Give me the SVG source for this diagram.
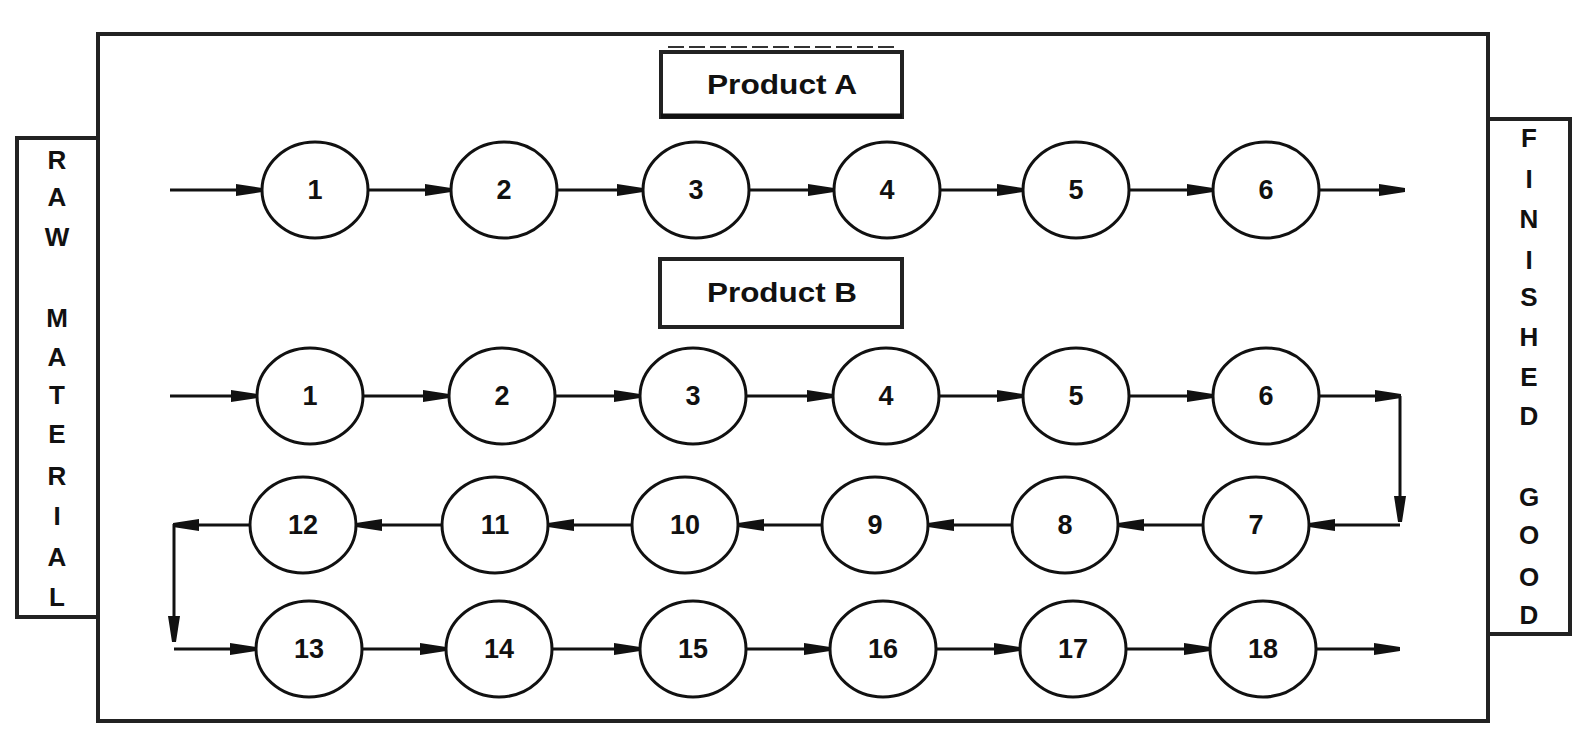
<svg xmlns="http://www.w3.org/2000/svg" width="1591" height="742" viewBox="0 0 1591 742">
<style>
.box{fill:#fff;stroke:#222;stroke-width:4}
.nd{fill:#fff;stroke:#111;stroke-width:3}
.t{font-family:"Liberation Sans",Arial,sans-serif;font-weight:bold;font-size:27px;fill:#111;text-anchor:middle;dominant-baseline:central}
.v{font-family:"Liberation Sans",Arial,sans-serif;font-weight:bold;font-size:26px;fill:#111;text-anchor:middle}
.c{fill:none;stroke:#111;stroke-width:3}
</style>
<defs>
<marker id="ah" viewBox="0 0 26 12" refX="26" refY="6" markerWidth="26" markerHeight="12" markerUnits="userSpaceOnUse" orient="auto"><path d="M0,0 L26,4 L26,8 L0,12 z" fill="#111"/></marker>
</defs>
<rect width="1591" height="742" fill="#fff"/>
<g id="main-frame"><rect class="box" x="98" y="34" width="1390" height="687"/></g>
<g id="raw-material">
<rect class="box" x="17" y="138" width="81" height="479"/>
<text class="v"><tspan x="57" y="169">R</tspan><tspan x="57" y="206">A</tspan><tspan x="57" y="246">W</tspan><tspan x="57" y="327">M</tspan><tspan x="57" y="366">A</tspan><tspan x="57" y="404">T</tspan><tspan x="57" y="443">E</tspan><tspan x="57" y="485">R</tspan><tspan x="57" y="525">I</tspan><tspan x="57" y="566">A</tspan><tspan x="57" y="606">L</tspan></text>
</g>
<g id="finished-good">
<rect class="box" x="1488" y="119" width="82" height="515"/>
<text class="v"><tspan x="1529" y="147">F</tspan><tspan x="1529" y="188">I</tspan><tspan x="1529" y="228">N</tspan><tspan x="1529" y="269">I</tspan><tspan x="1529" y="306">S</tspan><tspan x="1529" y="346">H</tspan><tspan x="1529" y="386">E</tspan><tspan x="1529" y="425">D</tspan><tspan x="1529" y="506">G</tspan><tspan x="1529" y="544">O</tspan><tspan x="1529" y="586">O</tspan><tspan x="1529" y="624">D</tspan></text>
</g>
<g id="product-a"><line x1="668" y1="47" x2="895" y2="47" stroke="#333" stroke-width="2" stroke-dasharray="16 5"/><rect class="box" x="661" y="52" width="241" height="65"/><line x1="661" y1="116" x2="902" y2="116" stroke="#111" stroke-width="5"/><text class="t" x="782" y="85" textLength="150" lengthAdjust="spacingAndGlyphs">Product A</text></g>
<g id="product-b"><rect class="box" x="660" y="259" width="242" height="68"/><text class="t" x="782" y="293" textLength="150" lengthAdjust="spacingAndGlyphs">Product B</text></g>
<g id="connectors">
<line class="c" x1="170" y1="190" x2="262" y2="190" marker-end="url(#ah)"/>
<line class="c" x1="368" y1="190" x2="451" y2="190" marker-end="url(#ah)"/>
<line class="c" x1="557" y1="190" x2="643" y2="190" marker-end="url(#ah)"/>
<line class="c" x1="749" y1="190" x2="834" y2="190" marker-end="url(#ah)"/>
<line class="c" x1="940" y1="190" x2="1023" y2="190" marker-end="url(#ah)"/>
<line class="c" x1="1129" y1="190" x2="1213" y2="190" marker-end="url(#ah)"/>
<line class="c" x1="1319" y1="190" x2="1405" y2="190" marker-end="url(#ah)"/>
<line class="c" x1="170" y1="396" x2="257" y2="396" marker-end="url(#ah)"/>
<line class="c" x1="363" y1="396" x2="449" y2="396" marker-end="url(#ah)"/>
<line class="c" x1="555" y1="396" x2="640" y2="396" marker-end="url(#ah)"/>
<line class="c" x1="746" y1="396" x2="833" y2="396" marker-end="url(#ah)"/>
<line class="c" x1="939" y1="396" x2="1023" y2="396" marker-end="url(#ah)"/>
<line class="c" x1="1129" y1="396" x2="1213" y2="396" marker-end="url(#ah)"/>
<line class="c" x1="1319" y1="396" x2="1401" y2="396" marker-end="url(#ah)"/>
<line class="c" x1="1400" y1="396" x2="1400" y2="522" marker-end="url(#ah)"/>
<line class="c" x1="1400" y1="525" x2="1309" y2="525" marker-end="url(#ah)"/>
<line class="c" x1="1203" y1="525" x2="1118" y2="525" marker-end="url(#ah)"/>
<line class="c" x1="1012" y1="525" x2="928" y2="525" marker-end="url(#ah)"/>
<line class="c" x1="822" y1="525" x2="738" y2="525" marker-end="url(#ah)"/>
<line class="c" x1="632" y1="525" x2="548" y2="525" marker-end="url(#ah)"/>
<line class="c" x1="442" y1="525" x2="356" y2="525" marker-end="url(#ah)"/>
<line class="c" x1="250" y1="525" x2="173" y2="525" marker-end="url(#ah)"/>
<line class="c" x1="174" y1="524" x2="174" y2="642" marker-end="url(#ah)"/>
<line class="c" x1="174" y1="649" x2="256" y2="649" marker-end="url(#ah)"/>
<line class="c" x1="362" y1="649" x2="446" y2="649" marker-end="url(#ah)"/>
<line class="c" x1="552" y1="649" x2="640" y2="649" marker-end="url(#ah)"/>
<line class="c" x1="746" y1="649" x2="830" y2="649" marker-end="url(#ah)"/>
<line class="c" x1="936" y1="649" x2="1020" y2="649" marker-end="url(#ah)"/>
<line class="c" x1="1126" y1="649" x2="1210" y2="649" marker-end="url(#ah)"/>
<line class="c" x1="1316" y1="649" x2="1400" y2="649" marker-end="url(#ah)"/>
</g>
<g id="a1"><ellipse class="nd" cx="315" cy="190" rx="53" ry="48"/><text class="t" x="315" y="190">1</text></g>
<g id="a2"><ellipse class="nd" cx="504" cy="190" rx="53" ry="48"/><text class="t" x="504" y="190">2</text></g>
<g id="a3"><ellipse class="nd" cx="696" cy="190" rx="53" ry="48"/><text class="t" x="696" y="190">3</text></g>
<g id="a4"><ellipse class="nd" cx="887" cy="190" rx="53" ry="48"/><text class="t" x="887" y="190">4</text></g>
<g id="a5"><ellipse class="nd" cx="1076" cy="190" rx="53" ry="48"/><text class="t" x="1076" y="190">5</text></g>
<g id="a6"><ellipse class="nd" cx="1266" cy="190" rx="53" ry="48"/><text class="t" x="1266" y="190">6</text></g>
<g id="b1"><ellipse class="nd" cx="310" cy="396" rx="53" ry="48"/><text class="t" x="310" y="396">1</text></g>
<g id="b2"><ellipse class="nd" cx="502" cy="396" rx="53" ry="48"/><text class="t" x="502" y="396">2</text></g>
<g id="b3"><ellipse class="nd" cx="693" cy="396" rx="53" ry="48"/><text class="t" x="693" y="396">3</text></g>
<g id="b4"><ellipse class="nd" cx="886" cy="396" rx="53" ry="48"/><text class="t" x="886" y="396">4</text></g>
<g id="b5"><ellipse class="nd" cx="1076" cy="396" rx="53" ry="48"/><text class="t" x="1076" y="396">5</text></g>
<g id="b6"><ellipse class="nd" cx="1266" cy="396" rx="53" ry="48"/><text class="t" x="1266" y="396">6</text></g>
<g id="b7"><ellipse class="nd" cx="1256" cy="525" rx="53" ry="48"/><text class="t" x="1256" y="525">7</text></g>
<g id="b8"><ellipse class="nd" cx="1065" cy="525" rx="53" ry="48"/><text class="t" x="1065" y="525">8</text></g>
<g id="b9"><ellipse class="nd" cx="875" cy="525" rx="53" ry="48"/><text class="t" x="875" y="525">9</text></g>
<g id="b10"><ellipse class="nd" cx="685" cy="525" rx="53" ry="48"/><text class="t" x="685" y="525">10</text></g>
<g id="b11"><ellipse class="nd" cx="495" cy="525" rx="53" ry="48"/><text class="t" x="495" y="525">11</text></g>
<g id="b12"><ellipse class="nd" cx="303" cy="525" rx="53" ry="48"/><text class="t" x="303" y="525">12</text></g>
<g id="b13"><ellipse class="nd" cx="309" cy="649" rx="53" ry="48"/><text class="t" x="309" y="649">13</text></g>
<g id="b14"><ellipse class="nd" cx="499" cy="649" rx="53" ry="48"/><text class="t" x="499" y="649">14</text></g>
<g id="b15"><ellipse class="nd" cx="693" cy="649" rx="53" ry="48"/><text class="t" x="693" y="649">15</text></g>
<g id="b16"><ellipse class="nd" cx="883" cy="649" rx="53" ry="48"/><text class="t" x="883" y="649">16</text></g>
<g id="b17"><ellipse class="nd" cx="1073" cy="649" rx="53" ry="48"/><text class="t" x="1073" y="649">17</text></g>
<g id="b18"><ellipse class="nd" cx="1263" cy="649" rx="53" ry="48"/><text class="t" x="1263" y="649">18</text></g>
</svg>
